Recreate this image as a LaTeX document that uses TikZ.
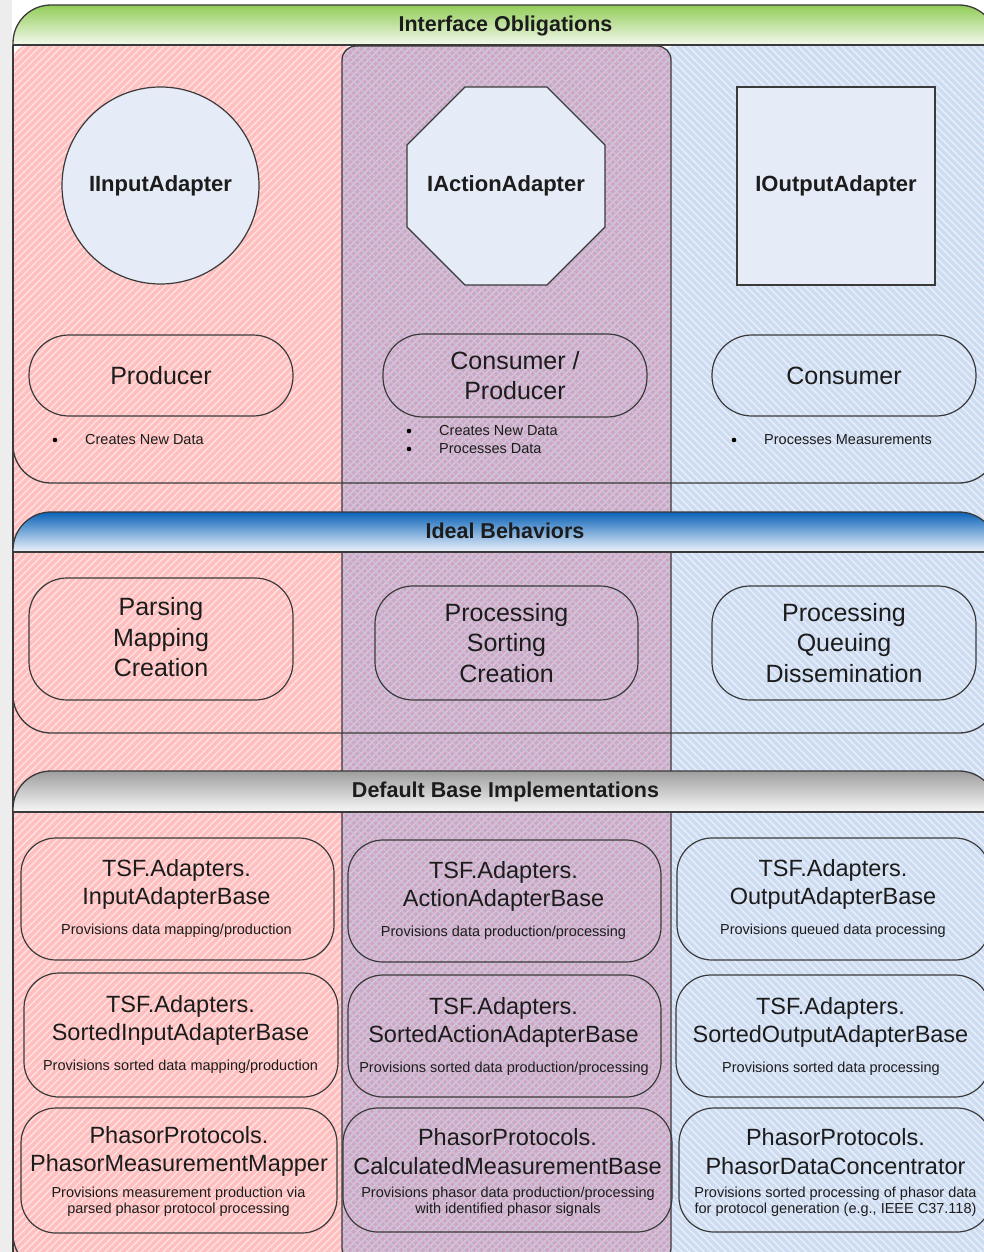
\documentclass[tikz,border=0pt]{standalone}
\usepackage{fontspec}
\setmainfont{Liberation Sans}
\usetikzlibrary{shapes.geometric}

\definecolor{edge}{HTML}{3A3A3A}
\definecolor{ink}{HTML}{1C1C1C}
\definecolor{redbase}{HTML}{FFBFBF}
\definecolor{redline}{HTML}{FFE3E3}
\definecolor{bluebase}{HTML}{CEDCF2}
\definecolor{blueline}{HTML}{E9F0FA}
\definecolor{purpbase}{HTML}{CDA8C2}
\definecolor{purpline1}{HTML}{E4C4D4}
\definecolor{purpline2}{HTML}{C6C3E2}
\definecolor{shapefill}{HTML}{E6ECF7}
\definecolor{greentop}{HTML}{92CC58}
\definecolor{greenbot}{HTML}{F4F9EE}
\definecolor{bluetop}{HTML}{0B63B8}
\definecolor{bluebot}{HTML}{EEF4FB}
\definecolor{graytop}{HTML}{9E9E9E}
\definecolor{graybot}{HTML}{F7F7F7}
\definecolor{margin}{HTML}{EDEDED}

\tikzset{
  frame/.style={draw=edge, line width=1.3pt},
  hatch/.style={line width=1.3pt},
  headtext/.style={font=\bfseries\fontsize{21.5}{26}\selectfont, text=ink, inner sep=0pt},
  iface/.style={draw=edge, line width=1.2pt, fill=shapefill, text=ink,
    font=\bfseries\fontsize{22}{26}\selectfont, inner sep=0pt},
  role/.style={draw=edge, line width=1.2pt, rounded corners=40pt, align=center,
    text=ink, font=\fontsize{25}{30}\selectfont, inner sep=0pt},
  behave/.style={draw=edge, line width=1.2pt, rounded corners=38pt, align=center,
    text=ink, font=\fontsize{25}{30.5}\selectfont, inner sep=0pt},
  implbox/.style={draw=edge, line width=1.2pt, rounded corners=35pt, inner sep=0pt},
  impltitle/.style={align=center, text=ink, font=\fontsize{23.5}{28.5}\selectfont, inner sep=0pt},
  impldesc/.style={align=center, text=ink, font=\fontsize{14.5}{16}\selectfont, inner sep=0pt},
  bullettext/.style={anchor=west, text=ink, font=\fontsize{14.5}{18}\selectfont, inner sep=0pt},
  bulletdot/.style={circle, fill=black, inner sep=0pt, minimum size=4.6pt},
}

\begin{document}
\begin{tikzpicture}[x=1pt, y=-1pt]
\useasboundingbox (0,0) rectangle (983,1252);
\fill[white] (0,0) rectangle (983,1252);
\fill[margin] (0,0) rectangle (12,1252);

% ---------- column backgrounds ----------
% producer column (red, "/" hatching)
\begin{scope}
  \clip[rounded corners=16pt] (13,45) rectangle (356,1262);
  \fill[redbase] (0,0) rectangle (400,1300);
  \foreach \c in {50,57.3,...,1700}
    \draw[hatch, redline] (\c-1300,1300) -- (\c,0);
\end{scope}
\draw[frame] (13,45) -- (13,1262);

% consumer column (blue, "\" hatching)
\begin{scope}
  \clip[rounded corners=16pt] (662,45) rectangle (1000,1262);
  \fill[bluebase] (640,0) rectangle (1010,1300);
  \foreach \d in {-650,-642.7,...,980}
    \draw[hatch, blueline] (\d,0) -- (\d+1300,1300);
\end{scope}

% consumer/producer column (purple, cross hatching)
\begin{scope}
  \clip[rounded corners=14pt] (342,46) rectangle (671,1262);
  \fill[purpbase] (330,0) rectangle (690,1300);
  \foreach \c in {370,377.3,...,1960}
    \draw[hatch, purpline1] (\c-1300,1300) -- (\c,0);
  \foreach \d in {-940,-932.7,...,650}
    \draw[hatch, purpline2] (\d,0) -- (\d+1300,1300);
\end{scope}
\draw[frame, rounded corners=14pt] (342,46) rectangle (671,1262);

% ---------- section frames with shaded headers ----------
\begin{scope}
  \clip[rounded corners=38pt] (13,5) rectangle (997,483);
  \shade[top color=greentop, bottom color=greenbot] (13,5) rectangle (997,45);
\end{scope}
\draw[frame, rounded corners=38pt] (13,5) rectangle (997,483);
\draw[frame] (13,45) -- (997,45);
\node[headtext] (hdrIface) at (505.5,26) {Interface Obligations};

\begin{scope}
  \clip[rounded corners=38pt] (13,512) rectangle (997,733);
  \shade[top color=bluetop, bottom color=bluebot] (13,512) rectangle (997,552);
\end{scope}
\draw[frame, rounded corners=38pt] (13,512) rectangle (997,733);
\draw[frame] (13,552) -- (997,552);
\node[headtext] (hdrIdeal) at (505,531) {Ideal Behaviors};

\begin{scope}
  \clip[rounded corners=38pt] (13,771) rectangle (997,1272);
  \shade[top color=graytop, bottom color=graybot] (13,771) rectangle (997,812);
\end{scope}
\draw[frame, rounded corners=38pt] (13,771) rectangle (997,1272);
\draw[frame] (13,812) -- (997,812);
\node[headtext] (hdrImpl) at (505.5,792) {Default Base Implementations};

% ---------- interface obligations ----------
\node[iface, circle, minimum size=197pt] (iInput) at (160.5,185.5) {IInputAdapter};
% the label is set in a zero-width box so the octagon keeps its own size
\node[iface, regular polygon, regular polygon sides=8, minimum size=214.3pt] (iAction) at (506,186) {\makebox[0pt]{IActionAdapter}};
\node[iface, rectangle, minimum size=198pt] (iOutput) at (836,186) {IOutputAdapter};

\node[role, minimum width=264pt, minimum height=81pt] (roleProd) at (161,375.5) {Producer};
\node[role, minimum width=264pt, minimum height=83pt] (roleBoth) at (515,375.5) {Consumer /\\Producer};
\node[role, minimum width=264pt, minimum height=81pt] (roleCons) at (844,375.5) {Consumer};

\node[bulletdot] (dotProd) at (55,440) {};
\node[bullettext] (txtProd) at (85,440) {Creates New Data};
\node[bulletdot] (dotBothA) at (409,431) {};
\node[bullettext] (txtBothA) at (439,431) {Creates New Data};
\node[bulletdot] (dotBothB) at (409,449) {};
\node[bullettext] (txtBothB) at (439,449) {Processes Data};
\node[bulletdot] (dotCons) at (734,440) {};
\node[bullettext] (txtCons) at (764,440) {Processes Measurements};

% ---------- ideal behaviors ----------
\node[behave, minimum width=264pt, minimum height=122pt] (behProd) at (161,639) {};
\node[align=center, text=ink, font=\fontsize{25}{30.5}\selectfont, inner sep=0pt] (txtBehProd) at (161,637.5) {Parsing\\Mapping\\Creation};
\node[behave, minimum width=263pt, minimum height=114pt] (behBoth) at (506.5,643) {Processing\\Sorting\\Creation};
\node[behave, minimum width=264pt, minimum height=114pt] (behCons) at (844,643) {Processing\\Queuing\\Dissemination};

% ---------- default base implementations ----------
% row 1
\node[implbox, minimum width=313pt, minimum height=122pt] (boxInput) at (177.5,899) {};
\node[impltitle] (ttlInput) at (176.5,884.5) {TSF.Adapters.\\InputAdapterBase};
\node[impldesc] (dscInput) at (176.5,931) {Provisions data mapping/production};

\node[implbox, minimum width=313pt, minimum height=122pt] (boxAction) at (504.5,901) {};
\node[impltitle] (ttlAction) at (503.5,886.5) {TSF.Adapters.\\ActionAdapterBase};
\node[impldesc] (dscAction) at (503.5,933) {Provisions data production/processing};

\node[implbox, minimum width=313pt, minimum height=122pt] (boxOutput) at (833.5,899) {};
\node[impltitle] (ttlOutput) at (833,884.5) {TSF.Adapters.\\OutputAdapterBase};
\node[impldesc] (dscOutput) at (833,931) {Provisions queued data processing};

% row 2
\node[implbox, minimum width=314pt, minimum height=124pt] (boxSInput) at (181,1035) {};
\node[impltitle] (ttlSInput) at (180.5,1020.5) {TSF.Adapters.\\SortedInputAdapterBase};
\node[impldesc] (dscSInput) at (180.5,1067) {Provisions sorted data mapping/production};

\node[implbox, minimum width=313pt, minimum height=122pt] (boxSAction) at (504.5,1036) {};
\node[impltitle] (ttlSAction) at (503.5,1022.5) {TSF.Adapters.\\SortedActionAdapterBase};
\node[impldesc] (dscSAction) at (504,1069) {Provisions sorted data production/processing};

\node[implbox, minimum width=314pt, minimum height=122pt] (boxSOutput) at (833,1036) {};
\node[impltitle] (ttlSOutput) at (830.5,1022.5) {TSF.Adapters.\\SortedOutputAdapterBase};
\node[impldesc] (dscSOutput) at (831,1069) {Provisions sorted data processing};

% row 3
\node[implbox, minimum width=316pt, minimum height=125pt] (boxMapper) at (179,1170.5) {};
\node[impltitle] (ttlMapper) at (179,1151.5) {PhasorProtocols.\\PhasorMeasurementMapper};
\node[impldesc] (dscMapper) at (178.5,1202) {Provisions measurement production via\\parsed phasor protocol processing};

\node[implbox, minimum width=329pt, minimum height=124pt] (boxCalc) at (507.5,1170) {};
\node[impltitle] (ttlCalc) at (507.5,1151.5) {PhasorProtocols.\\CalculatedMeasurementBase};
\node[impldesc] (dscCalc) at (508,1202) {Provisions phasor data production/processing\\with identified phasor signals};

\node[implbox, minimum width=313pt, minimum height=124pt] (boxConc) at (835.5,1170) {};
\node[impltitle] (ttlConc) at (835.5,1151.5) {PhasorProtocols.\\PhasorDataConcentrator};
\node[impldesc] (dscConc) at (835.5,1202) {Provisions sorted processing of phasor data\\for protocol generation (e.g., IEEE C37.118)};
\end{tikzpicture}
\end{document}
